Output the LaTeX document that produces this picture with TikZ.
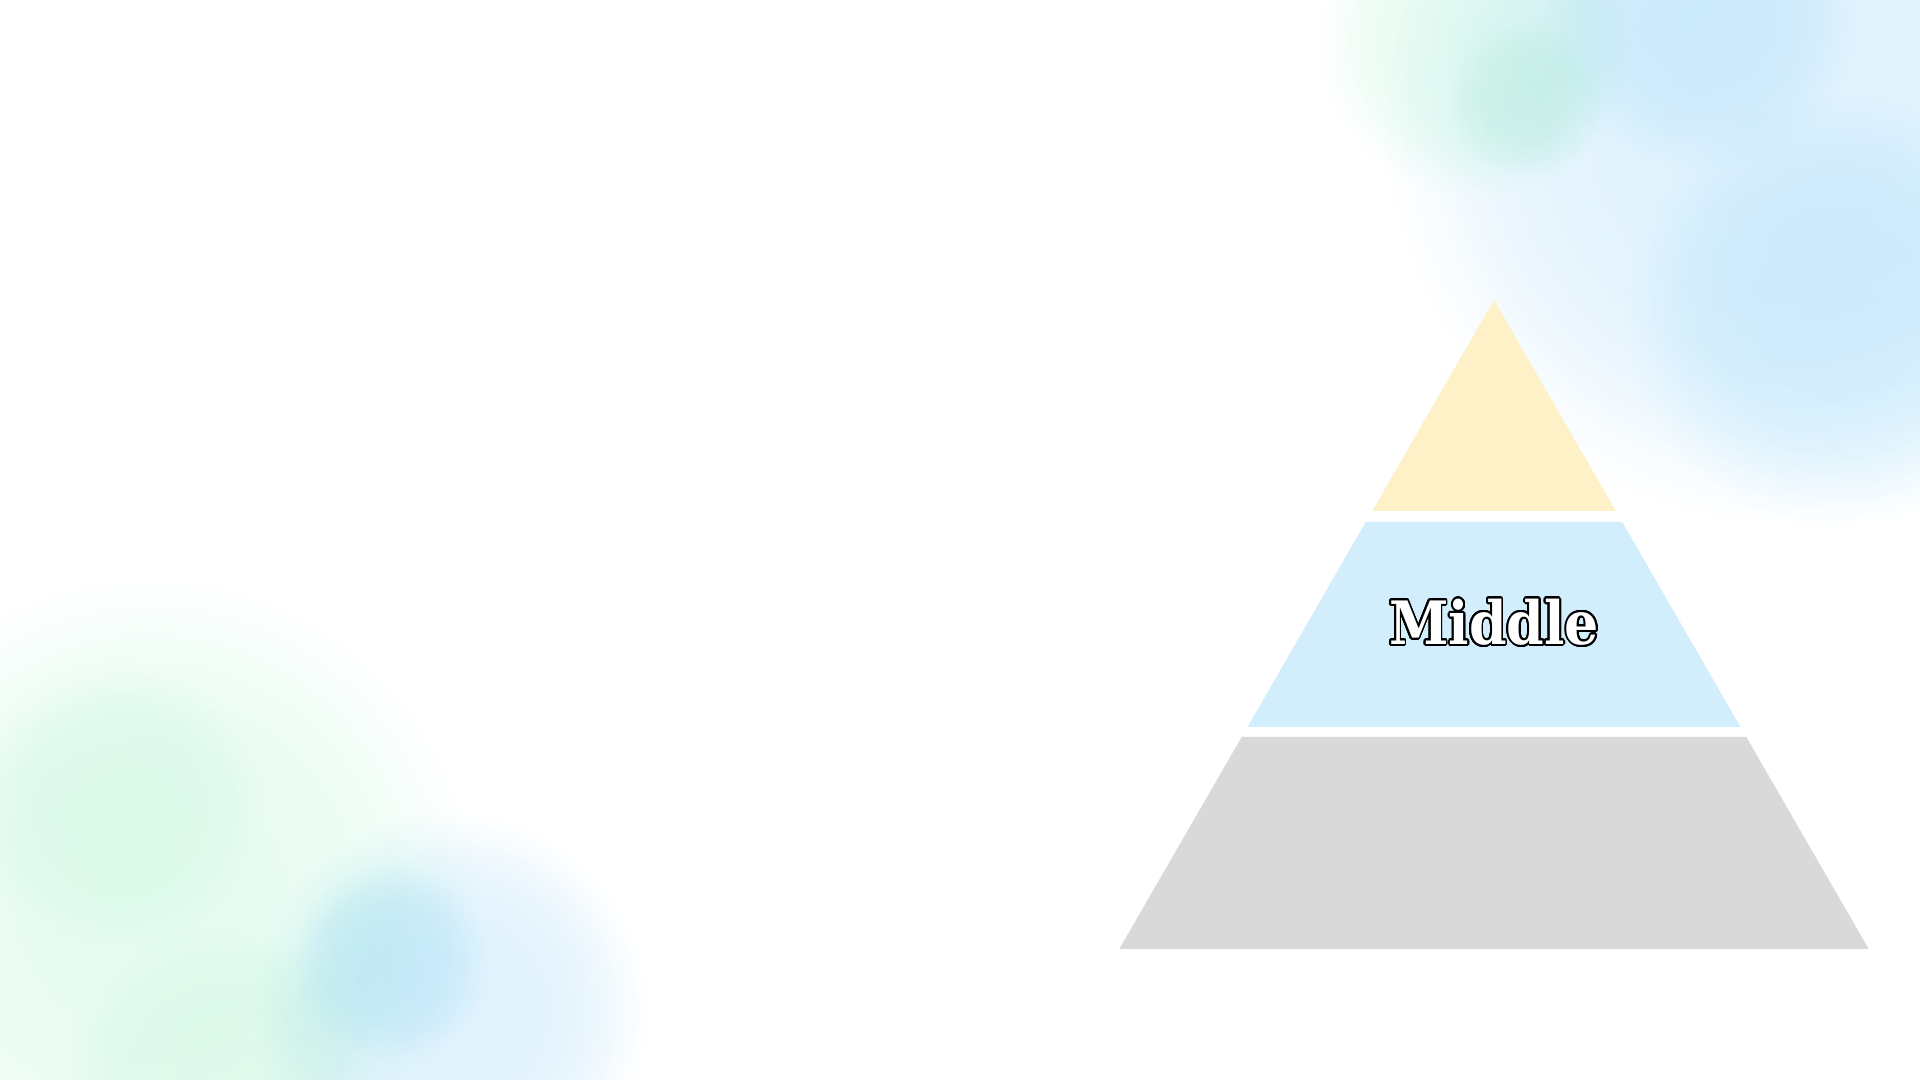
\documentclass[tikz,border=0pt]{standalone}
\usepackage{fontspec}
\setmainfont{Liberation Serif}
\newfontfamily\dispfont{DejaVu Serif Condensed}
\usepackage[copies]{contour}
\definecolor{topcol}{RGB}{254,240,199}
\definecolor{midcol}{RGB}{210,238,253}
\definecolor{botcol}{RGB}{217,217,217}
\definecolor{bigblue}{RGB}{224,242,253}
\definecolor{spotblue}{RGB}{232,247,254}
\definecolor{biggreen}{RGB}{232,252,242}
\definecolor{spotgreen}{RGB}{241,252,246}
\newcommand\mkblob[2]{\pgfdeclareradialshading{#1}{\pgfpointorigin}{color(0bp)=(#2); color(10bp)=(#2!95!white); color(15bp)=(#2!82!white); color(19bp)=(#2!55!white); color(22bp)=(#2!25!white); color(25bp)=(white); color(50bp)=(white)}}
\mkblob{bbig}{bigblue}
\mkblob{bspot}{spotblue}
\mkblob{gbig}{biggreen}
\mkblob{gspot}{spotgreen}
\contourlength{0.5pt}
\contournumber{32}
\begin{document}
\begin{tikzpicture}[x=0.01cm,y=-0.01cm]
\fill[white] (0,0) rectangle (1920,1080);
\useasboundingbox (0,0) rectangle (1920,1080);
\begin{scope}[blend mode=multiply]
\clip (0,0) rectangle (1920,1080);
% top-right blobs
\shade[shading=bbig] (1790,120) circle[radius=4.1cm];
\shade[shading=bspot] (1840,310) circle[radius=2.2cm];
\shade[shading=bspot] (1700,15) circle[radius=1.6cm];
\shade[shading=gbig] (1475,40) circle[radius=1.6cm];
\shade[shading=gspot] (1525,100) circle[radius=0.8cm];
% bottom-left blobs
\shade[shading=gbig] (150,900) circle[radius=3.3cm];
\shade[shading=gspot] (120,810) circle[radius=1.5cm];
\shade[shading=gspot] (220,1075) circle[radius=1.6cm];
\shade[shading=bbig] (450,1010) circle[radius=2.0cm];
\shade[shading=bspot] (392,962) circle[radius=1.0cm];
\end{scope}
% pyramid
\fill[topcol] (1494,300) -- (1615.8,511) -- (1372.2,511) -- cycle;
\fill[midcol] (1365.8,522) -- (1622.2,522) -- (1740.5,727) -- (1247.5,727) -- cycle;
\fill[botcol] (1241.7,737) -- (1746.3,737) -- (1868.7,949) -- (1119.3,949) -- cycle;
\node (mid) at (1494,623) {\dispfont\fontsize{17}{20}\selectfont\bfseries\contour{black}{\textcolor{white}{Middle}}};
\end{tikzpicture}
\end{document}
